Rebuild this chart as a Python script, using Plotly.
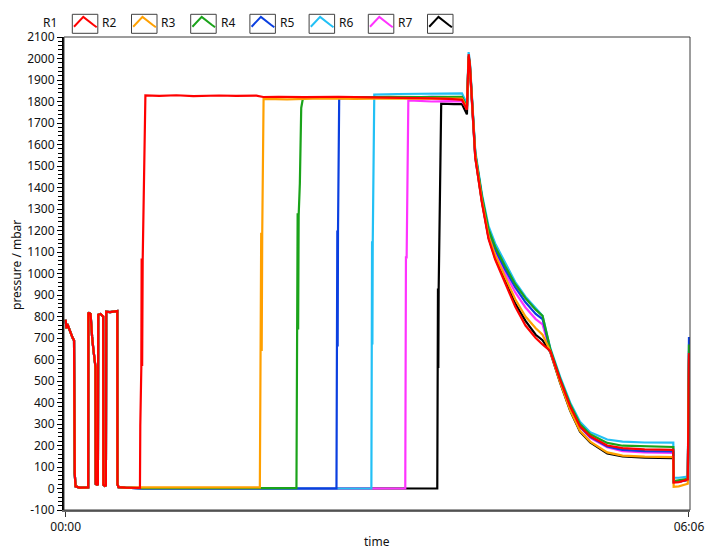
import plotly.graph_objects as go

# ---------------- data ----------------
SERIES = ["R1", "R2", "R3", "R4", "R5", "R6", "R7"]
COLORS = ["#ff0000", "#ffa000", "#1aa31a", "#0a3fe0", "#22c0f5", "#ff33ff", "#000000"]

# time in minutes, pressure in mbar
EARLY = [(0, 785), (0.4, 745), (1.0, 765), (2.0, 742), (3.0, 722), (4.0, 702), (4.9, 688),
         (5.0, 80), (5.3, 70), (5.8, 10), (8.0, 4), (13.2, 5), (13.3, 818), (14.6, 812),
         (15.0, 735), (15.5, 705), (16.2, 650), (17.0, 590), (17.5, 565), (17.6, 22),
         (18.4, 18), (18.9, 20), (19.1, 808), (20.5, 812), (22.0, 800), (22.1, 18),
         (23.0, 12), (23.6, 15), (23.8, 822), (26.0, 820), (28.0, 823), (30.3, 825),
         (30.4, 20), (31.0, 6), (35.0, 4), (40.0, 3)]

JUMP_R1 = [(43.6, 3), (43.8, 290), (44.4, 560), (44.6, 1070), (44.9, 570), (45.2, 1060),
           (46.8, 1828), (55, 1826), (65, 1829), (75, 1825), (90, 1828), (100, 1826),
           (112, 1827), (116, 1821), (125, 1822), (140, 1820), (160, 1822), (180, 1819),
           (200, 1818), (215, 1815), (225, 1812)]
JUMP_R2 = [(45, 5), (114.0, 5), (114.1, 300), (114.6, 640), (114.8, 1190), (115.1, 640),
           (115.4, 1180), (116.2, 1812), (130, 1810), (150, 1814), (170, 1812),
           (190, 1815), (210, 1813), (225, 1814)]
JUMP_R3 = [(45, 2), (135.5, 2), (135.9, 730), (136.2, 1280), (136.5, 740), (136.8, 1270),
           (137.5, 1420), (138.3, 1770), (139.3, 1815), (150, 1820), (170, 1818),
           (190, 1822), (210, 1820), (225, 1822)]
JUMP_R4 = [(45, 0), (159.0, 0), (159.2, 650), (159.5, 1200), (159.7, 660), (159.9, 1190),
           (160.6, 1815), (175, 1820), (195, 1818), (215, 1822), (225, 1820)]
JUMP_R5 = [(45, 1), (179.5, 0), (179.7, 660), (179.9, 1150), (180.1, 670), (180.3, 1140),
           (181.2, 1832), (195, 1835), (210, 1836), (225, 1840)]
JUMP_R6 = [(45, 1), (199.4, 0), (199.6, 540), (199.8, 1080), (200.0, 550), (200.2, 1070),
           (201.2, 1805), (215, 1800), (225, 1802)]
JUMP_R7 = [(45, 1), (218.2, 0), (218.4, 550), (218.6, 930), (218.8, 560), (219.0, 920),
           (220.5, 1790), (228, 1788)]

DECAY_T = [232.7, 235.6, 236.6, 237.3, 238.5, 240.5, 244.4, 248.3, 252.2, 258, 264, 270,
           276, 280, 284.5, 290.3, 296.2, 302, 308, 318, 327, 340, 356.8]
DECAY_R1 = [1808, 1762, 2020, 1975, 1825, 1540, 1330, 1160, 1065, 955, 845, 758, 700, 670,
            640, 506, 382, 289, 243, 200, 188, 182, 180]
DECAY_R2 = [1813, 1770, 2005, 1970, 1830, 1550, 1340, 1175, 1085, 985, 880, 800, 745, 715,
            640, 495, 365, 268, 218, 168, 153, 148, 146]
DECAY_R3 = [1822, 1775, 2010, 1980, 1838, 1560, 1360, 1205, 1125, 1035, 950, 885, 832, 803,
            650, 512, 392, 300, 252, 212, 199, 195, 193]
DECAY_R4 = [1820, 1775, 2005, 1975, 1835, 1555, 1355, 1195, 1112, 1020, 935, 866, 812, 788,
            645, 505, 382, 288, 240, 196, 180, 174, 172]
DECAY_R5 = [1838, 1790, 2030, 1990, 1845, 1570, 1370, 1220, 1140, 1050, 960, 892, 840, 803,
            655, 520, 400, 310, 262, 228, 218, 214, 213]
DECAY_R6 = [1800, 1770, 2000, 1970, 1830, 1552, 1350, 1190, 1100, 1002, 912, 842, 788, 763,
            640, 505, 380, 285, 236, 192, 174, 168, 166]
DECAY_R7 = [1788, 1740, 1990, 1960, 1820, 1540, 1335, 1168, 1072, 965, 860, 780, 715, 690,
            635, 492, 362, 265, 214, 163, 149, 143, 141]

END_T = [357.0, 360.0, 365.3, 366.0]
END_R1 = [28, 30, 42, 630]
END_R2 = [8, 10, 22, 610]
END_R3 = [35, 38, 45, 670]
END_R4 = [30, 32, 40, 705]
END_R5 = [50, 50, 55, 640]
END_R6 = [30, 32, 40, 620]
END_R7 = [30, 32, 40, 600]

Y_TICKS = list(range(-100, 2101, 100))
Y_TICKTEXT = [str(v) for v in Y_TICKS]
X_TICKS = [0, 366]
X_TICKTEXT = ["00:00", "06:06"]

JUMPS = [JUMP_R1, JUMP_R2, JUMP_R3, JUMP_R4, JUMP_R5, JUMP_R6, JUMP_R7]
DECAYS = [DECAY_R1, DECAY_R2, DECAY_R3, DECAY_R4, DECAY_R5, DECAY_R6, DECAY_R7]
ENDS = [END_R1, END_R2, END_R3, END_R4, END_R5, END_R6, END_R7]

# ---------------- layout geometry ----------------
W, H = 705, 550
ML, MR, MT, MB = 64, 15, 37, 40
PW = W - ML - MR
PH = H - MT - MB
FONT = "Noto Sans, Open Sans, DejaVu Sans, sans-serif"


def px(xp):
    return (xp - ML) / PW


def py(yp):
    return (H - MB - yp) / PH


fig = go.Figure()

# draw R7 first so that R1 ends on top
for i in reversed(range(len(SERIES))):
    pts = EARLY + JUMPS[i]
    t = [p[0] for p in pts] + DECAY_T + END_T
    v = [p[1] for p in pts] + DECAYS[i] + ENDS[i]
    fig.add_trace(go.Scatter(x=t, y=v, mode="lines", name=SERIES[i],
                             line=dict(color=COLORS[i], width=2.2),
                             showlegend=False, hoverinfo="skip"))

shapes = []
annotations = []
# plot frame (top / right)
shapes.append(dict(type="rect", xref="paper", yref="paper", x0=0, x1=1, y0=0, y1=1,
                   line=dict(color="#3a3a3a", width=1), layer="above"))

# manual legend: label then swatch
for i, name in enumerate(SERIES):
    cx = 50 + 59.2 * i
    annotations.append(dict(text=name, x=px(cx), y=py(22.5), xref="paper", yref="paper",
                            xanchor="center", yanchor="middle", showarrow=False,
                            font=dict(family=FONT, size=12, color="#111")))
    bx = 72.3 + 59.2 * i
    by = 14.3
    shapes.append(dict(type="rect", xref="paper", yref="paper",
                       x0=px(bx), x1=px(bx + 25.5), y0=py(by), y1=py(by + 19),
                       line=dict(color="#404040", width=1), fillcolor="white"))
    pts = [(1.7, 12.4), (11, 2.6), (21, 10.5), (24.4, 13)]
    path = "M " + " L ".join(f"{px(bx + a):.5f},{py(by + b):.5f}" for a, b in pts)
    shapes.append(dict(type="path", xref="paper", yref="paper", path=path,
                       line=dict(color=COLORS[i], width=2)))

annotations.append(dict(text="pressure / mbar", x=px(16), y=py(265), xref="paper",
                        yref="paper", textangle=-90, showarrow=False,
                        xanchor="center", yanchor="middle",
                        font=dict(family=FONT, size=12, color="#111")))
annotations.append(dict(text="time", x=px(377), y=py(541.5), xref="paper", yref="paper",
                        showarrow=False, xanchor="center", yanchor="middle",
                        font=dict(family=FONT, size=12, color="#111")))

fig.update_layout(
    width=W, height=H,
    margin=dict(l=ML, r=MR, t=MT, b=MB, autoexpand=False),
    paper_bgcolor="white", plot_bgcolor="white",
    font=dict(family=FONT, size=12, color="#111"),
    shapes=shapes, annotations=annotations,
    showlegend=False,
)
fig.update_xaxes(range=[-1.0, 366.6], tickvals=X_TICKS, ticktext=X_TICKTEXT,
                 automargin=False,
                 showgrid=False, zeroline=False, showline=True, linecolor="#6a6a6a",
                 linewidth=2, ticks="outside", ticklen=5, tickcolor="#333",
                 tickfont=dict(family=FONT, size=12, color="#111"))
fig.update_yaxes(range=[-100, 2100], tickvals=Y_TICKS, ticktext=Y_TICKTEXT,
                 automargin=False,
                 showgrid=False, zeroline=False, showline=True, linecolor="black",
                 linewidth=2, ticks="outside", ticklen=5, tickcolor="black",
                 tickfont=dict(family=FONT, size=12, color="#111"),
                 minor=dict(dtick=20, tick0=0, ticks="outside", ticklen=4,
                            tickcolor="black", showgrid=False))

fig.write_html("out.html", config={"displayModeBar": False},
               post_script="document.body.style.margin='0';")
